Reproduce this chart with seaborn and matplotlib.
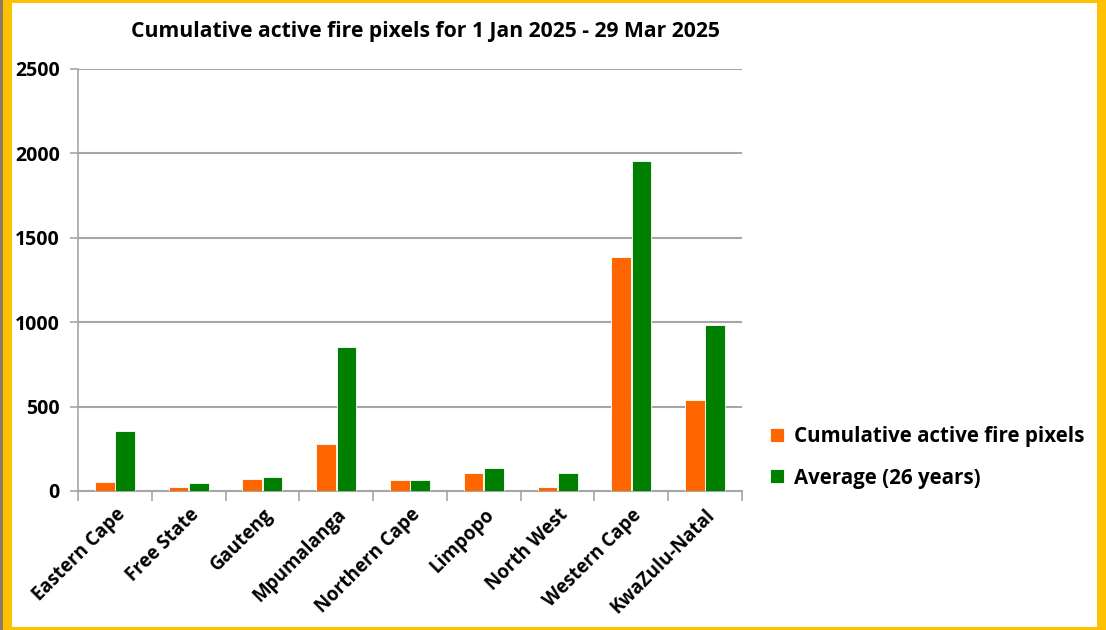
import pandas as pd
import seaborn as sns
import matplotlib.pyplot as plt
from matplotlib.patches import Rectangle

# provinces and values
provinces = ["Eastern Cape", "Free State", "Gauteng", "Mpumalanga", "Northern Cape",
             "Limpopo", "North West", "Western Cape", "KwaZulu-Natal"]
cumulative = [53, 24, 71, 278, 65, 107, 24, 1385, 539]
average = [355, 47, 83, 853, 65, 136, 107, 1953, 983]
series = ["Cumulative active fire pixels", "Average (26 years)"]

df = pd.DataFrame({
    "province": provinces * 2,
    "value": cumulative + average,
    "series": [series[0]] * len(provinces) + [series[1]] * len(provinces),
})

sns.set_style("white")
plt.rcParams["font.family"] = ["Open Sans", "DejaVu Sans"]
plt.rcParams["font.weight"] = "bold"
plt.rcParams["text.color"] = "black"
plt.rcParams["xtick.color"] = "black"
plt.rcParams["ytick.color"] = "black"

fig = plt.figure(figsize=(11.06, 6.30), dpi=100)
fig.patch.set_facecolor("#FFC000")
# white card inside the yellow frame
fig.patches.append(Rectangle((12 / 1106, 3 / 630), (1097 - 12) / 1106, (627 - 3) / 630,
                             transform=fig.transFigure, facecolor="white", edgecolor="none", zorder=-2))
fig.patches.append(Rectangle((0, 0), 3 / 1106, 1, transform=fig.transFigure,
                             facecolor="#8a7a66", edgecolor="none", zorder=-2))

ax = fig.add_axes([78 / 1106, 139 / 630, 664 / 1106, 422 / 630])
ax.set_facecolor("none")

sns.barplot(data=df, x="province", y="value", hue="series",
            palette=["#FF6600", "#008000"], saturation=1, width=0.55, gap=0.03,
            edgecolor="white", linewidth=0.6, ax=ax, zorder=3)

ax.set_ylim(0, 2500)
ax.set_yticks(range(0, 2501, 500))
ax.set_xlim(-0.5, len(provinces) - 0.5)
ax.yaxis.grid(True, color="#A6A6A6", linewidth=1.5, zorder=0)
ax.set_axisbelow(True)
for side in ["top", "right"]:
    ax.spines[side].set_visible(False)
ax.spines["left"].set_color("#A6A6A6")
ax.spines["bottom"].set_color("#A6A6A6")
ax.spines["left"].set_linewidth(1.2)
ax.spines["bottom"].set_linewidth(1.5)

# x ticks between categories, labels at centres
ax.set_xticks([i - 0.5 for i in range(len(provinces) + 1)], minor=True)
ax.tick_params(axis="x", which="minor", length=7, color="#A6A6A6", width=1.2, bottom=True)
ax.tick_params(axis="x", which="major", length=0, pad=10)
ax.tick_params(axis="y", length=6, color="#A6A6A6", width=1.2, left=True, pad=7)
ax.set_xticks(range(len(provinces)))
ax.set_xticklabels(provinces, rotation=45, ha="right", rotation_mode="anchor",
                   fontsize=13.5, fontweight="bold")
for lbl in ax.get_yticklabels():
    lbl.set_fontsize(14)
    lbl.set_fontweight("bold")

ax.set_xlabel("")
ax.set_ylabel("")
fig.text(425 / 1106, 1 - 31 / 630, "Cumulative active fire pixels for 1 Jan 2025 - 29 Mar 2025",
         ha="center", va="center", fontsize=15.2, fontweight="bold")

ax.legend(title=None, loc="center left", bbox_to_anchor=(1.015, 0.08), frameon=False,
          handlelength=0.65, handleheight=0.65, handletextpad=0.5,
          labelspacing=1.0, prop={"weight": "bold", "size": 14.8})

fig.savefig("out.png", dpi=100)
